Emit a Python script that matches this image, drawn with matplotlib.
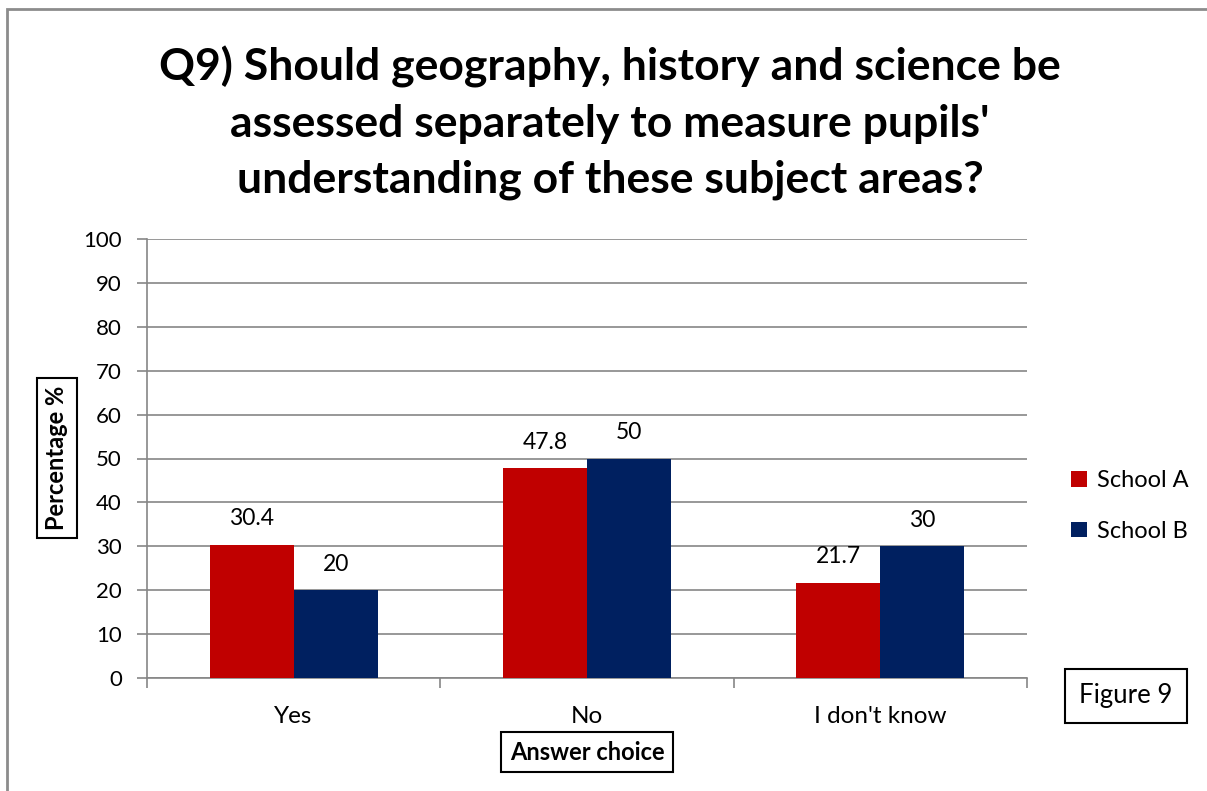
import matplotlib.pyplot as plt
from matplotlib.patches import Rectangle
import numpy as np

plt.rcParams['font.family'] = ['Lato', 'DejaVu Sans']

# Survey answers, percent of pupils
answers = ['Yes', 'No', "I don't know"]
school_a = [30.4, 47.8, 21.7]
school_b = [20, 50, 30]
series_names = ['School A', 'School B']

red = '#C00000'
navy = '#002060'
grid_gray = '#868686'

fig = plt.figure(figsize=(12.07, 7.91), dpi=100)
W, H = 1207, 791

# outer chart frame (runs off the right/bottom edge)
fig.patches.append(Rectangle((7 / W, -0.1), 1.2, (H - 9) / H + 0.1,
                             transform=fig.transFigure, fill=False,
                             edgecolor='#8c8c8c', linewidth=2.0))

ax = fig.add_axes([147 / W, 113 / H, 880 / W, 439 / H])

x = np.arange(len(answers))
width = 0.286
bars_a = ax.bar(x - width / 2, school_a, width, color=red, label=series_names[0], zorder=3)
bars_b = ax.bar(x + width / 2, school_b, width, color=navy, label=series_names[1], zorder=3)

for bars, vals in [(bars_a, school_a), (bars_b, school_b)]:
    for b, v in zip(bars, vals):
        ax.annotate(f'{v:g}', (b.get_x() + b.get_width() / 2, v),
                    xytext=(0, 11), textcoords='offset points',
                    ha='center', va='bottom', fontsize=16.5, color='black')

ax.set_xlim(-0.5, 2.5)
ax.set_ylim(0, 100)
ax.set_yticks(np.arange(0, 101, 10))
ax.yaxis.grid(True, color=grid_gray, linewidth=1.2, zorder=0)
ax.set_axisbelow(True)

# category boundaries carry the x tick marks
ax.set_xticks([-0.5, 0.5, 1.5, 2.5])
ax.set_xticklabels([])
ax.set_xticks(x, minor=True)
ax.set_xticklabels(answers, minor=True, fontsize=17.5)
ax.tick_params(axis='x', which='major', length=7, width=1.2, color=grid_gray)
ax.tick_params(axis='x', which='minor', length=0, pad=20)
ax.tick_params(axis='y', length=7, width=1.2, color=grid_gray, labelsize=16, pad=11)

for side in ['top', 'right']:
    ax.spines[side].set_visible(False)
for side in ['left', 'bottom']:
    ax.spines[side].set_color(grid_gray)
    ax.spines[side].set_linewidth(1.2)

fig.text(610 / W, 1 - 123 / H,
         "Q9) Should geography, history and science be\n"
         "assessed separately to measure pupils'\n"
         "understanding of these subject areas?",
         ha='center', va='center', fontsize=32, fontweight='bold',
         linespacing=1.47)

box = dict(boxstyle='square,pad=0.35', facecolor='white', edgecolor='black', linewidth=1.5)
fig.text(57 / W, 1 - 458 / H, 'Percentage %', rotation=90, ha='center', va='center',
         fontsize=17, fontweight='bold', bbox=box)
fig.text(587 / W, 1 - 752 / H, 'Answer choice', ha='center', va='center',
         fontsize=17, fontweight='bold', bbox=box)
fig.text(1126 / W, 1 - 696 / H, 'Figure 9', ha='center', va='center', fontsize=18.5,
         bbox=dict(boxstyle='square,pad=0.55', facecolor='white', edgecolor='black',
                   linewidth=1.5))

fig.legend(loc='center left', bbox_to_anchor=(1050 / W, 1 - 506 / H), frameon=False,
           fontsize=17, handlelength=0.65, handleheight=0.65, handletextpad=0.45,
           labelspacing=1.25)

fig.savefig('out.png', dpi=100)
